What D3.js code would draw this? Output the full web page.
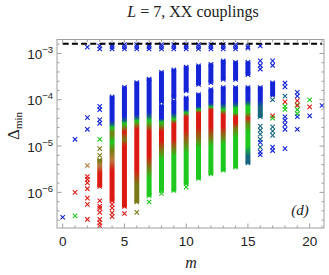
<!DOCTYPE html>
<html><head><meta charset="utf-8">
<script src="https://cdn.jsdelivr.net/npm/d3@7"></script>
<style>body{margin:0;background:#fff}svg{display:block}</style>
</head><body>
<svg id="c" width="329" height="275"></svg>
<script>
// ---------- data ----------
const xTicks = [0, 5, 10, 15, 20];
const yTickExps = [-6, -5, -4, -3];
const dashedLevel = 1.62e-3;
const dashedRange = [0, 21];
// top row of points just below the dashed line: [m, value]
const topRow = [
  [2,1.37e-3],[3,1.45e-3],[3,1.25e-3],
  [4,1.55e-3],[4,1.4e-3],[4,1.25e-3],[5,1.55e-3],[5,1.4e-3],[5,1.25e-3],
  [6,1.55e-3],[6,1.4e-3],[6,1.25e-3],[7,1.55e-3],[7,1.4e-3],[7,1.25e-3],
  [8,1.55e-3],[8,1.4e-3],[8,1.25e-3],[9,1.55e-3],[9,1.4e-3],[9,1.25e-3],
  [10,1.55e-3],[10,1.4e-3],[10,1.25e-3],[11,1.55e-3],[11,1.4e-3],[11,1.25e-3],
  [12,1.55e-3],[12,1.4e-3],[12,1.25e-3],[13,1.55e-3],[13,1.4e-3],[13,1.25e-3],
  [14,1.55e-3],[14,1.4e-3],[14,1.25e-3],[15,1.4e-3],[15,1.3e-3],[16,1.45e-3]
];
// dense columns of overlapping points: [m, [[value, kind], ...]] top -> bottom
const bands = [
  [3, [[5.0e-6,'o'],[3.8e-6,'n'],[2.6e-6,'r'],[1.35e-6,'r']]],
  [4, [[1.15e-4,'b'],[3.6e-5,'b'],[2.9e-5,'t'],[2.5e-5,'g'],[1.9e-5,'o'],[1.2e-5,'g'],[8e-6,'o'],[5e-6,'n'],[3e-6,'r'],[6.6e-7,'r']]],
  [5, [[1.85e-4,'b'],[4.4e-5,'b'],[3.5e-5,'t'],[3.1e-5,'g'],[2.5e-5,'o'],[2.0e-5,'r'],[1.4e-5,'o'],[1.0e-5,'r'],[5.0e-7,'r']]],
  [6, [[2.35e-4,'b'],[4.8e-5,'b'],[4.0e-5,'t'],[3.5e-5,'g'],[2.9e-5,'o'],[2.3e-5,'r'],[3.0e-6,'r'],[1.5e-6,'o'],[6.2e-7,'o']]],
  [7, [[2.8e-4,'b'],[5.4e-5,'b'],[4.3e-5,'t'],[3.5e-5,'g'],[2.7e-5,'o'],[2.1e-5,'r'],[6e-6,'r'],[3.5e-6,'o'],[2e-6,'g'],[8.5e-7,'g']]],
  [8, [[3.9e-4,'b'],[9.0e-5,'b']]],
  [8, [[7.4e-5,'b'],[3.9e-5,'b'],[3.3e-5,'g'],[2.6e-5,'o'],[2.1e-5,'r'],[1.3e-5,'r'],[8e-6,'o'],[5e-6,'g'],[1.1e-6,'g']]],
  [9, [[4.4e-4,'b'],[1.12e-4,'b']]],
  [9, [[9.3e-5,'b'],[5.3e-5,'b'],[4.5e-5,'t'],[3.8e-5,'g'],[3.0e-5,'r'],[1.4e-5,'r'],[9e-6,'o'],[6e-6,'g'],[1.1e-6,'g']]],
  [10, [[5.1e-4,'b'],[1.55e-4,'b']]],
  [10, [[1.1e-4,'b'],[6.2e-5,'b'],[5.2e-5,'g'],[4.3e-5,'r'],[2.2e-5,'r'],[1.2e-5,'o'],[7e-6,'g'],[1.55e-6,'g']]],
  [11, [[5.4e-4,'b'],[2.15e-4,'b']]],
  [11, [[1.3e-4,'b'],[7.2e-5,'b'],[6.1e-5,'g'],[5.2e-5,'r'],[2.6e-5,'r'],[1.4e-5,'o'],[9e-6,'g'],[2.0e-6,'g']]],
  [12, [[5.8e-4,'b'],[2.35e-4,'b']]],
  [12, [[1.66e-4,'b'],[8.6e-5,'b'],[7.6e-5,'t'],[7.0e-5,'g'],[6.1e-5,'r'],[2.6e-5,'r'],[1.5e-5,'o'],[1e-5,'g'],[2.5e-6,'g']]],
  [13, [[6.9e-4,'b'],[2.75e-4,'b']]],
  [13, [[1.84e-4,'b'],[8.6e-5,'b'],[7.2e-5,'t'],[6.1e-5,'g'],[4.7e-5,'r'],[2.6e-5,'r'],[1.6e-5,'o'],[1.1e-5,'g'],[3.0e-6,'g']]],
  [14, [[6.45e-4,'b'],[2.75e-4,'b']]],
  [14, [[1.84e-4,'b'],[9.2e-5,'b'],[7.6e-5,'t'],[6.7e-5,'g'],[5.2e-5,'g'],[4.3e-5,'r'],[3.2e-5,'r'],[2.4e-5,'o'],[1.5e-5,'g'],[8e-6,'g'],[3.5e-6,'g']]],
  [15, [[6.45e-4,'b'],[3.5e-4,'b']]],
  [15, [[1.84e-4,'b'],[1.0e-4,'b'],[8.5e-5,'t'],[7.2e-5,'g'],[5.5e-5,'g'],[4.6e-5,'o'],[4.0e-5,'r'],[3.3e-5,'o'],[2.0e-5,'g'],[1.0e-5,'g'],[6e-6,'t'],[4.3e-6,'t']]],
  [16, [[1.84e-4,'b'],[1.0e-4,'b'],[7e-5,'t'],[4.3e-5,'t']]],
  [17, [[2.33e-4,'b'],[1.25e-4,'b']]]
];
// isolated points: [m, value, kind]
const points = [
  [0,2.9e-7,'b'],
  [1,1.4e-5,'b'],[1,1.0e-6,'r'],[1,3.1e-7,'g'],
  [2,4.1e-5,'b'],[2,2.3e-5,'b'],[2,3.8e-6,'n'],[2,2.2e-6,'r'],[2,1.9e-6,'r'],[2,1.6e-6,'r'],[2,1.2e-6,'r'],[2,7.5e-7,'r'],[2,5.5e-7,'r'],[2,2.6e-7,'r'],
  [3,7.2e-5,'b'],[3,6.1e-5,'b'],[3,3.7e-5,'b'],[3,3.1e-5,'b'],[3,1.4e-5,'g'],[3,8.8e-6,'o'],[3,6.3e-6,'o'],[3,6.6e-7,'r'],[3,5.0e-7,'r'],[3,4.5e-7,'r'],[3,3.7e-7,'r'],[3,2.6e-7,'r'],[3,2.2e-7,'r'],[3,1.9e-7,'r'],
  [4,5.5e-7,'r'],[4,4.6e-7,'r'],[4,3.6e-7,'r'],[4,3.0e-7,'r'],
  [5,3.5e-7,'r'],[6,3.7e-7,'o'],[7,6.2e-7,'g'],[8,9.5e-7,'g'],[10,1.3e-6,'g'],
  [16,6.9e-4,'b'],[16,5.5e-4,'b'],[16,4.6e-4,'b'],[16,2.7e-5,'t'],[16,2.2e-5,'t'],[16,1.8e-5,'t'],[16,1.4e-5,'t'],[16,1.2e-5,'b'],[16,9.5e-6,'t'],[16,7.5e-6,'b'],[16,6.5e-6,'b'],
  [17,6.9e-4,'b'],[17,5.5e-4,'b'],[17,1.0e-4,'t'],[17,4.5e-5,'r'],[17,4.0e-5,'g'],[17,2.6e-5,'t'],[17,2.1e-5,'t'],[17,1.7e-5,'t'],[17,9.5e-6,'b'],[17,8.0e-6,'b'],
  [18,2.3e-4,'b'],[18,1.9e-4,'b'],[18,1.2e-4,'t'],[18,9.0e-5,'r'],[18,7.2e-5,'g'],[18,6.2e-5,'g'],[18,4.3e-5,'b'],[18,3.6e-5,'b'],[18,2.9e-5,'b'],[18,2.3e-5,'b'],[18,8.8e-6,'b'],
  [19,1.45e-4,'b'],[19,1.2e-4,'b'],[19,9.5e-5,'r'],[19,7.7e-5,'g'],[19,7.5e-5,'r'],[19,6.1e-5,'g'],[19,5.0e-5,'g'],[19,4.3e-5,'b'],[19,2.3e-5,'b'],
  [20,1.0e-4,'g'],[20,7.0e-5,'r'],[20,4.5e-5,'b'],
  [21,7.5e-5,'b']
];

// ---------- drawing ----------
const kindColor = {b:'#1424d6', t:'#17667e', g:'#1ec81e', o:'#7a7a16', r:'#dc1a14', n:'#b67a3c'};
const svg = d3.select('#c');
const L = 57, R = 324, T = 39.5, B = 228;
const x = d3.scaleLinear().domain([-0.46, 21.16]).range([L, R]);
const y = d3.scaleLog().domain([1.7e-7, 2.0e-3]).range([B, T]);
const frameCol = '#a0a0a0';

const defs = svg.append('defs');
defs.append('clipPath').attr('id','clip').append('rect')
  .attr('x',L).attr('y',T).attr('width',R-L).attr('height',B-T);
const plot = svg.append('g').attr('clip-path','url(#clip)');

// dense bands as gradient bars
const bw = 5;
bands.forEach((bd, i) => {
  const m = bd[0], stops = bd[1];
  const y1 = y(stops[0][0]), y2 = y(stops[stops.length-1][0]);
  const id = 'gr' + i;
  const g = defs.append('linearGradient').attr('id', id)
    .attr('gradientUnits','userSpaceOnUse').attr('x1',0).attr('x2',0).attr('y1',y1).attr('y2',y2);
  stops.forEach(s => g.append('stop')
    .attr('offset', y2 === y1 ? 0 : (y(s[0]) - y1) / (y2 - y1))
    .attr('stop-color', kindColor[s[1]]));
  plot.append('rect').attr('x', x(m) - bw/2).attr('y', y1 - 1)
    .attr('width', bw).attr('height', y2 - y1 + 2).attr('fill', 'url(#' + id + ')');
});

function cross(sel, px, py, col, s) {
  sel.append('path')
    .attr('d', `M${px-s},${py-s}L${px+s},${py+s}M${px-s},${py+s}L${px+s},${py-s}`)
    .attr('stroke', col).attr('stroke-width', 1.1).attr('fill','none');
}
// band end markers
bands.forEach(bd => {
  const m = bd[0], stops = bd[1];
  [stops[0], stops[stops.length-1]].forEach(s => cross(plot, x(m), y(s[0]), kindColor[s[1]], 2.2));
});
// isolated points
points.forEach(p => cross(plot, x(p[0]), y(p[1]), kindColor[p[2]], 2.2));
topRow.forEach(p => cross(plot, x(p[0]), y(p[1]), kindColor.b, 2.2));

// dashed line
plot.append('line').attr('x1', x(dashedRange[0])).attr('x2', x(dashedRange[1]))
  .attr('y1', y(dashedLevel)).attr('y2', y(dashedLevel))
  .attr('stroke','#000').attr('stroke-width',2).attr('stroke-dasharray','6,3.2');

// frame
svg.append('rect').attr('x',L).attr('y',T).attr('width',R-L).attr('height',B-T)
  .attr('fill','none').attr('stroke',frameCol).attr('stroke-width',1);

// x ticks
const xt = svg.append('g');
d3.range(0, 22).forEach(v => {
  const len = v % 5 === 0 ? 4.5 : 2.5;
  xt.append('line').attr('x1',x(v)).attr('x2',x(v)).attr('y1',B).attr('y2',B-len).attr('stroke',frameCol);
  xt.append('line').attr('x1',x(v)).attr('x2',x(v)).attr('y1',T).attr('y2',T+len).attr('stroke',frameCol);
});
xTicks.forEach(v => xt.append('text').attr('x', x(v)).attr('y', 245.5)
  .attr('text-anchor','middle').attr('font-family','Liberation Sans, Arial, sans-serif')
  .attr('font-size', 13.5).attr('fill','#222').text(v));

// y ticks
const yt = svg.append('g');
d3.range(-6.8, -2.6, 0.2).forEach(e => {
  const ev = Math.round(e*10)/10;
  const v = Math.pow(10, ev);
  if (v < y.domain()[0] || v > y.domain()[1]) return;
  const major = Math.abs(ev - Math.round(ev)) < 1e-6;
  const len = major ? 4.5 : 2.5;
  yt.append('line').attr('x1',L).attr('x2',L+len).attr('y1',y(v)).attr('y2',y(v)).attr('stroke',frameCol);
  yt.append('line').attr('x1',R).attr('x2',R-len).attr('y1',y(v)).attr('y2',y(v)).attr('stroke',frameCol);
});
yTickExps.forEach(e => {
  const t = yt.append('text').attr('x', 53).attr('y', y(Math.pow(10,e)) + 5.5)
    .attr('text-anchor','end').attr('font-family','Liberation Sans, Arial, sans-serif')
    .attr('fill','#222').attr('font-size',13.5);
  t.append('tspan').text('10');
  t.append('tspan').attr('font-size',9.5).attr('dy',-6).text('\u2212' + Math.abs(e));
});

// labels
const serif = 'Liberation Serif, DejaVu Serif, serif';
const title = svg.append('text').attr('x',193).attr('y',17).attr('text-anchor','middle')
  .attr('font-family',serif).attr('font-size',16).attr('fill','#222');
title.append('tspan').attr('font-style','italic').text('L');
title.append('tspan').text(' = 7, XX couplings');

svg.append('text').attr('x',191).attr('y',268).attr('text-anchor','middle')
  .attr('font-family',serif).attr('font-style','italic').attr('font-size',16).attr('fill','#222').text('m');

const yl = svg.append('text').attr('transform','translate(19,126) rotate(-90)').attr('text-anchor','middle')
  .attr('font-family',serif).attr('font-size',17).attr('fill','#222');
yl.append('tspan').text('\u0394');
yl.append('tspan').attr('font-size',11).attr('dy',3).text('min');

svg.append('text').attr('x',300).attr('y',215).attr('text-anchor','middle')
  .attr('font-family',serif).attr('font-style','italic').attr('font-size',15).attr('fill','#222').text('(d)');
</script>
</body></html>
